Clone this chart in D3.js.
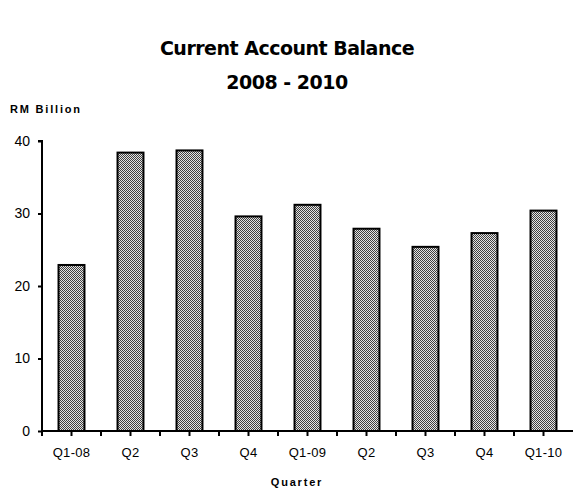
<!DOCTYPE html>
<html>
<head>
<meta charset="utf-8">
<script src="https://cdn.jsdelivr.net/npm/d3@7"></script>
<style>
  html, body { margin: 0; padding: 0; background: #fff; }
  svg { display: block; }
</style>
</head>
<body>
<svg id="chart" width="573" height="491"></svg>
<script>
const categories = ["Q1-08", "Q2", "Q3", "Q4", "Q1-09", "Q2", "Q3", "Q4", "Q1-10"];
const values = [22.9, 38.4, 38.7, 29.6, 31.2, 27.9, 25.4, 27.3, 30.4];
const yTicks = [0, 10, 20, 30, 40];
const titleLines = ["Current Account Balance", "2008 - 2010"];
const yAxisTitle = "RM Billion";
const xAxisTitle = "Quarter";

const svg = d3.select("#chart");
const W = 573;
const x0 = 42, x1 = W;
const yTop = 141, yBot = 431;

// dither pattern
const defs = svg.append("defs");
const pat = defs.append("pattern").attr("id", "dither")
  .attr("patternUnits", "userSpaceOnUse").attr("width", 2).attr("height", 2);
pat.append("rect").attr("width", 2).attr("height", 2).attr("fill", "#e4e4e4");
pat.append("rect").attr("x", 0).attr("y", 0).attr("width", 1).attr("height", 1).attr("fill", "#404040");
pat.append("rect").attr("x", 1).attr("y", 1).attr("width", 1).attr("height", 1).attr("fill", "#404040");

const idx = categories.map((d, i) => i);
const x = d3.scaleBand().domain(idx).range([x0, x1]).paddingInner(0.56).paddingOuter(0.28);
const xb = d3.scaleBand().domain(idx).range([x0, x1]);
const y = d3.scaleLinear().domain([0, 40]).range([yBot, yTop]);

// title
svg.selectAll("text.title").data(titleLines).enter().append("text")
  .attr("class", "title")
  .attr("x", 287).attr("y", (d, i) => 55 + i * 34)
  .attr("text-anchor", "middle")
  .attr("font-family", "DejaVu Sans, sans-serif")
  .attr("font-weight", "bold").attr("font-size", 19)
  .attr("letter-spacing", -0.5)
  .text(d => d);

// y axis title
svg.append("text").attr("x", 10).attr("y", 113)
  .attr("font-family", "Liberation Sans, Arial, sans-serif")
  .attr("font-weight", "bold").attr("font-size", 11)
  .attr("letter-spacing", 1.8)
  .text(yAxisTitle);

// bars
svg.selectAll("rect.bar").data(values).enter().append("rect")
  .attr("class", "bar")
  .attr("x", (d, i) => x(i))
  .attr("y", d => y(d))
  .attr("width", x.bandwidth())
  .attr("height", d => y(0) - y(d))
  .attr("fill", "url(#dither)")
  .attr("stroke", "#000").attr("stroke-width", 2);

// y axis
const yAxis = d3.axisLeft(y).tickValues(yTicks).tickSize(4).tickPadding(8).tickFormat(d3.format("d"));
const gy = svg.append("g").attr("transform", `translate(${x0},0)`).call(yAxis);
gy.select(".domain").attr("stroke", "#000").attr("stroke-width", 2).attr("d", `M-4,${yTop}H0V${yBot}`);
gy.selectAll(".tick line").attr("stroke", "#000").attr("stroke-width", 2);
gy.selectAll(".tick text").attr("font-family", "Liberation Sans, Arial, sans-serif").attr("font-size", 14).attr("fill", "#000");

// x axis
const xAxis = d3.axisBottom(xb).tickSize(0).tickPadding(17).tickFormat(i => categories[i]);
const gx = svg.append("g").attr("transform", `translate(0,${yBot})`).call(xAxis);
gx.select(".domain").attr("stroke", "#000").attr("stroke-width", 2).attr("d", `M${x0},0H${x1}`);
gx.selectAll(".tick text").attr("font-family", "Liberation Sans, Arial, sans-serif").attr("font-size", 13)
  .attr("letter-spacing", 0.3).attr("fill", "#000");
// tick marks at centres and boundaries
const tickPos = [];
idx.forEach(i => { tickPos.push(xb(i)); tickPos.push(xb(i) + xb.bandwidth() / 2); });
gx.selectAll("line.tk").data(tickPos).enter().append("line")
  .attr("class", "tk")
  .attr("x1", d => d).attr("x2", d => d).attr("y1", 0).attr("y2", 5)
  .attr("stroke", "#000").attr("stroke-width", 2);

// x axis title
svg.append("text").attr("x", 297).attr("y", 486)
  .attr("text-anchor", "middle")
  .attr("font-family", "Liberation Sans, Arial, sans-serif")
  .attr("font-weight", "bold").attr("font-size", 11)
  .attr("letter-spacing", 1.8)
  .text(xAxisTitle);
</script>
</body>
</html>
